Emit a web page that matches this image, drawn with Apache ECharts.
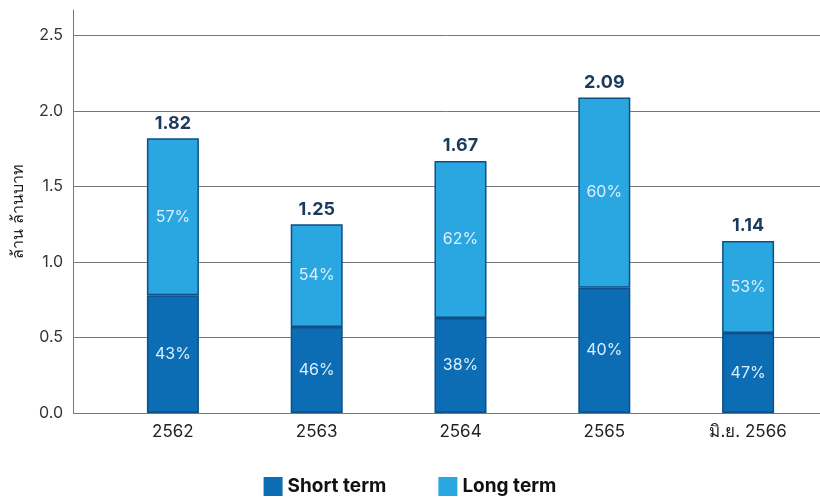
<!DOCTYPE html>
<html>
<head>
    <meta charset="utf-8" />
    <title>ECharts</title>
    <script src="https://cdn.jsdelivr.net/npm/echarts@6/dist/echarts.min.js"></script>
    <style>
        html, body { margin: 0; padding: 0; background: #fff; }
    </style>
</head>
<body>
    <div id="main" style="width: 820px;height:498px;"></div>

    <script type="text/javascript">
        // data
        var categories = ['2562', '2563', '2564', '2565', 'มิ.ย. 2566'];
        var shortTerm = [0.78, 0.57, 0.63, 0.83, 0.53];
        var longTerm = [1.04, 0.68, 1.04, 1.26, 0.61];
        var totals = [1.82, 1.25, 1.67, 2.09, 1.14];
        var shortPct = ['43%', '46%', '38%', '40%', '47%'];
        var longPct = ['57%', '54%', '62%', '60%', '53%'];
        var yTicks = [0, 0.5, 1.0, 1.5, 2.0, 2.5];

        var font = 'Inter, "Noto Sans", sans-serif';
        var yMax = 2.67;

        var myChart = echarts.init(document.getElementById('main'));

        var inside = {
            show: true,
            position: 'inside',
            color: '#dcefff',
            fontSize: 16,
            fontFamily: font
        };

        var option = {
            animation: false,
            textStyle: { fontFamily: font },
            legend: {
                bottom: 2,
                left: 'center',
                padding: 0,
                itemWidth: 19,
                itemHeight: 19,
                itemGap: 52,
                icon: 'rect',
                itemStyle: { borderWidth: 0 },
                data: ['Short term', 'Long term'],
                textStyle: { fontSize: 19, fontWeight: 'bold', color: '#111' }
            },
            // grid 0 = y axis + grid lines, grid 1 = the bars
            grid: [
                { left: 73, right: 0, top: 10, bottom: 85 },
                { left: 101, width: 724, top: 10, bottom: 85 }
            ],
            xAxis: [
                { gridIndex: 0, type: 'category', data: [], show: false },
                {
                    gridIndex: 1,
                    type: 'category',
                    data: categories,
                    axisLine: { show: false },
                    axisTick: { show: false },
                    axisLabel: { fontSize: 17, color: '#222', margin: 10 }
                }
            ],
            yAxis: [
                {
                    gridIndex: 0,
                    type: 'value',
                    min: 0,
                    max: yMax,
                    interval: 0.5,
                    name: 'ล้าน ล้านบาท',
                    nameLocation: 'middle',
                    nameGap: 47,
                    nameTextStyle: { fontSize: 16, color: '#222' },
                    axisLine: { show: true, lineStyle: { color: '#777', width: 1 } },
                    axisTick: { show: false },
                    axisLabel: {
                        showMaxLabel: false,
                        fontSize: 16,
                        color: '#333',
                        margin: 10,
                        formatter: function (v) { return yTicks.indexOf(v) >= 0 ? v.toFixed(1) : ''; }
                    },
                    splitLine: { show: true, showMaxLine: false, lineStyle: { color: '#777', width: 1 } }
                },
                { gridIndex: 1, type: 'value', min: 0, max: yMax, show: false }
            ],
            series: [
                {
                    name: 'Short term',
                    type: 'bar',
                    xAxisIndex: 1,
                    yAxisIndex: 1,
                    stack: 'total',
                    barWidth: 52,
                    data: shortTerm,
                    itemStyle: { color: '#0c6db5', borderColor: '#0d4f86', borderWidth: 1.5 },
                    label: Object.assign({}, inside, {
                        formatter: function (p) { return shortPct[p.dataIndex]; }
                    })
                },
                {
                    name: 'Long term',
                    type: 'bar',
                    xAxisIndex: 1,
                    yAxisIndex: 1,
                    stack: 'total',
                    barWidth: 52,
                    data: longTerm,
                    itemStyle: { color: '#2aa7e0', borderColor: '#0d4f86', borderWidth: 1.5 },
                    label: Object.assign({}, inside, {
                        formatter: function (p) { return longPct[p.dataIndex]; }
                    })
                },
                {
                    // zero-height bar on top of the stack, carries the total label
                    name: 'total',
                    type: 'bar',
                    xAxisIndex: 1,
                    yAxisIndex: 1,
                    stack: 'total',
                    barWidth: 52,
                    data: totals.map(function () { return 0; }),
                    itemStyle: { color: 'transparent' },
                    label: {
                        show: true,
                        position: 'top',
                        distance: 6,
                        fontSize: 18,
                        fontWeight: 'bold',
                        color: '#1b3b5e',
                        formatter: function (p) { return totals[p.dataIndex].toFixed(2); }
                    }
                }
            ]
        };

        myChart.setOption(option);
    </script>
</body>
</html>
